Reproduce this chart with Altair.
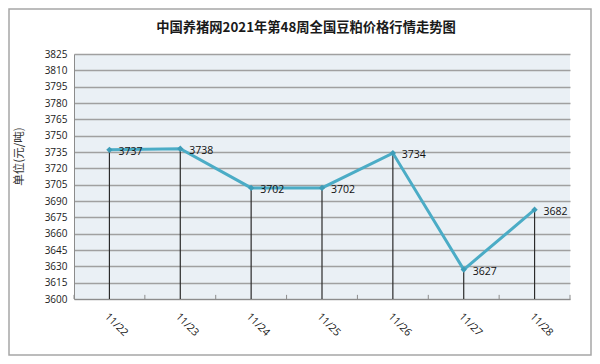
import altair as alt
import pandas as pd

dates = ["11/22", "11/23", "11/24", "11/25", "11/26", "11/27", "11/28"]
prices = [3737, 3738, 3702, 3702, 3734, 3627, 3682]
y_ticks = list(range(3600, 3826, 15))
title_text = "中国养猪网2021年第48周全国豆粕价格行情走势图"
y_title = "单位(元/吨)"

df = pd.DataFrame({"i": list(range(len(dates))), "date": dates, "price": prices})
bounds = pd.DataFrame({"b": [i - 0.5 for i in range(len(dates) + 1)]})

xscale = alt.Scale(domain=[-0.5, len(dates) - 0.5], nice=False, zero=False)
yscale = alt.Scale(domain=[y_ticks[0], y_ticks[-1]], nice=False, zero=False)

label_expr = "[" + ",".join(f"'{d}'" for d in dates) + "][datum.value]"

x_axis = alt.Axis(
    values=list(range(len(dates))), labelExpr=label_expr, labelAngle=45,
    labelAlign="left", labelBaseline="top", labelPadding=12, labelFlush=False,
    labelOverlap=False, ticks=False, grid=False, domainColor="#8C8C8C",
    domainWidth=1, title=None, labelFont="Open Sans", labelFontSize=10.5,
    labelColor="#1a1a1a",
)
y_axis = alt.Axis(
    values=y_ticks, format="d", grid=True, gridColor="#A0A0A0", gridWidth=1.3,
    ticks=False, domainColor="#8C8C8C", domainWidth=1, labelPadding=7,
    labelOverlap=False, labelFlush=False, labelBound=False,
    labelFont="Open Sans", labelFontSize=10, labelColor="#1a1a1a",
    title=y_title, titleFont="Noto Sans CJK SC", titleFontSize=11.5,
    titleFontWeight="normal", titleColor="#333333", titleX=-55, titleY=102,
    titleAngle=270, titleAlign="center", titleBaseline="middle",
)

base = alt.Chart(df)

drops = base.mark_rule(color="#2b2b2b", strokeWidth=1.2).encode(
    x=alt.X("i:Q", scale=xscale, axis=x_axis),
    y=alt.Y("price:Q", scale=yscale, axis=y_axis),
    y2=alt.datum(3600),
)

border = alt.Chart(df.head(1)).mark_rect(
    filled=False, stroke="#A6A6A6", strokeWidth=1.5, clip=False
).encode(
    x=alt.value(-65), x2=alt.value(517), y=alt.value(-45), y2=alt.value(301)
)

minor = alt.Chart(bounds).mark_rule(color="#8C8C8C", strokeWidth=1).encode(
    x=alt.X("b:Q", scale=xscale, axis=x_axis),
    y=alt.datum(3600, scale=yscale, axis=y_axis),
    y2=alt.datum(3603.8),
)

line = base.mark_line(color="#4BACC6", strokeWidth=3).encode(
    x=alt.X("i:Q", scale=xscale, axis=x_axis),
    y=alt.Y("price:Q", scale=yscale, axis=y_axis),
)

pts = base.mark_point(shape="diamond", filled=True, size=40, color="#3E9DB8", opacity=1).encode(
    x=alt.X("i:Q", scale=xscale, axis=x_axis),
    y=alt.Y("price:Q", scale=yscale, axis=y_axis),
)

labels = base.mark_text(
    align="left", baseline="middle", dx=9, dy=2, font="Open Sans",
    fontSize=10.5, color="#111111"
).encode(
    x=alt.X("i:Q", scale=xscale, axis=x_axis),
    y=alt.Y("price:Q", scale=yscale, axis=y_axis),
    text=alt.Text("price:Q", format="d"),
)

chart = alt.layer(drops, border, minor, line, pts, labels).properties(
    width=496, height=245,
    autosize=alt.AutoSizeParams(type="none"),
    padding={"left": 66, "top": 46, "right": 22, "bottom": 57},
    title=alt.TitleParams(
        title_text, font="Noto Sans CJK SC", fontSize=13.3, fontWeight="bold",
        anchor="middle", dx=-16, offset=0, dy=26, color="#1a1a1a",
    ),
    background="white",
).configure_view(stroke=None, fill="#EAF0F5")

chart.save("out.html", embed_options={"renderer": "svg", "actions": False})
